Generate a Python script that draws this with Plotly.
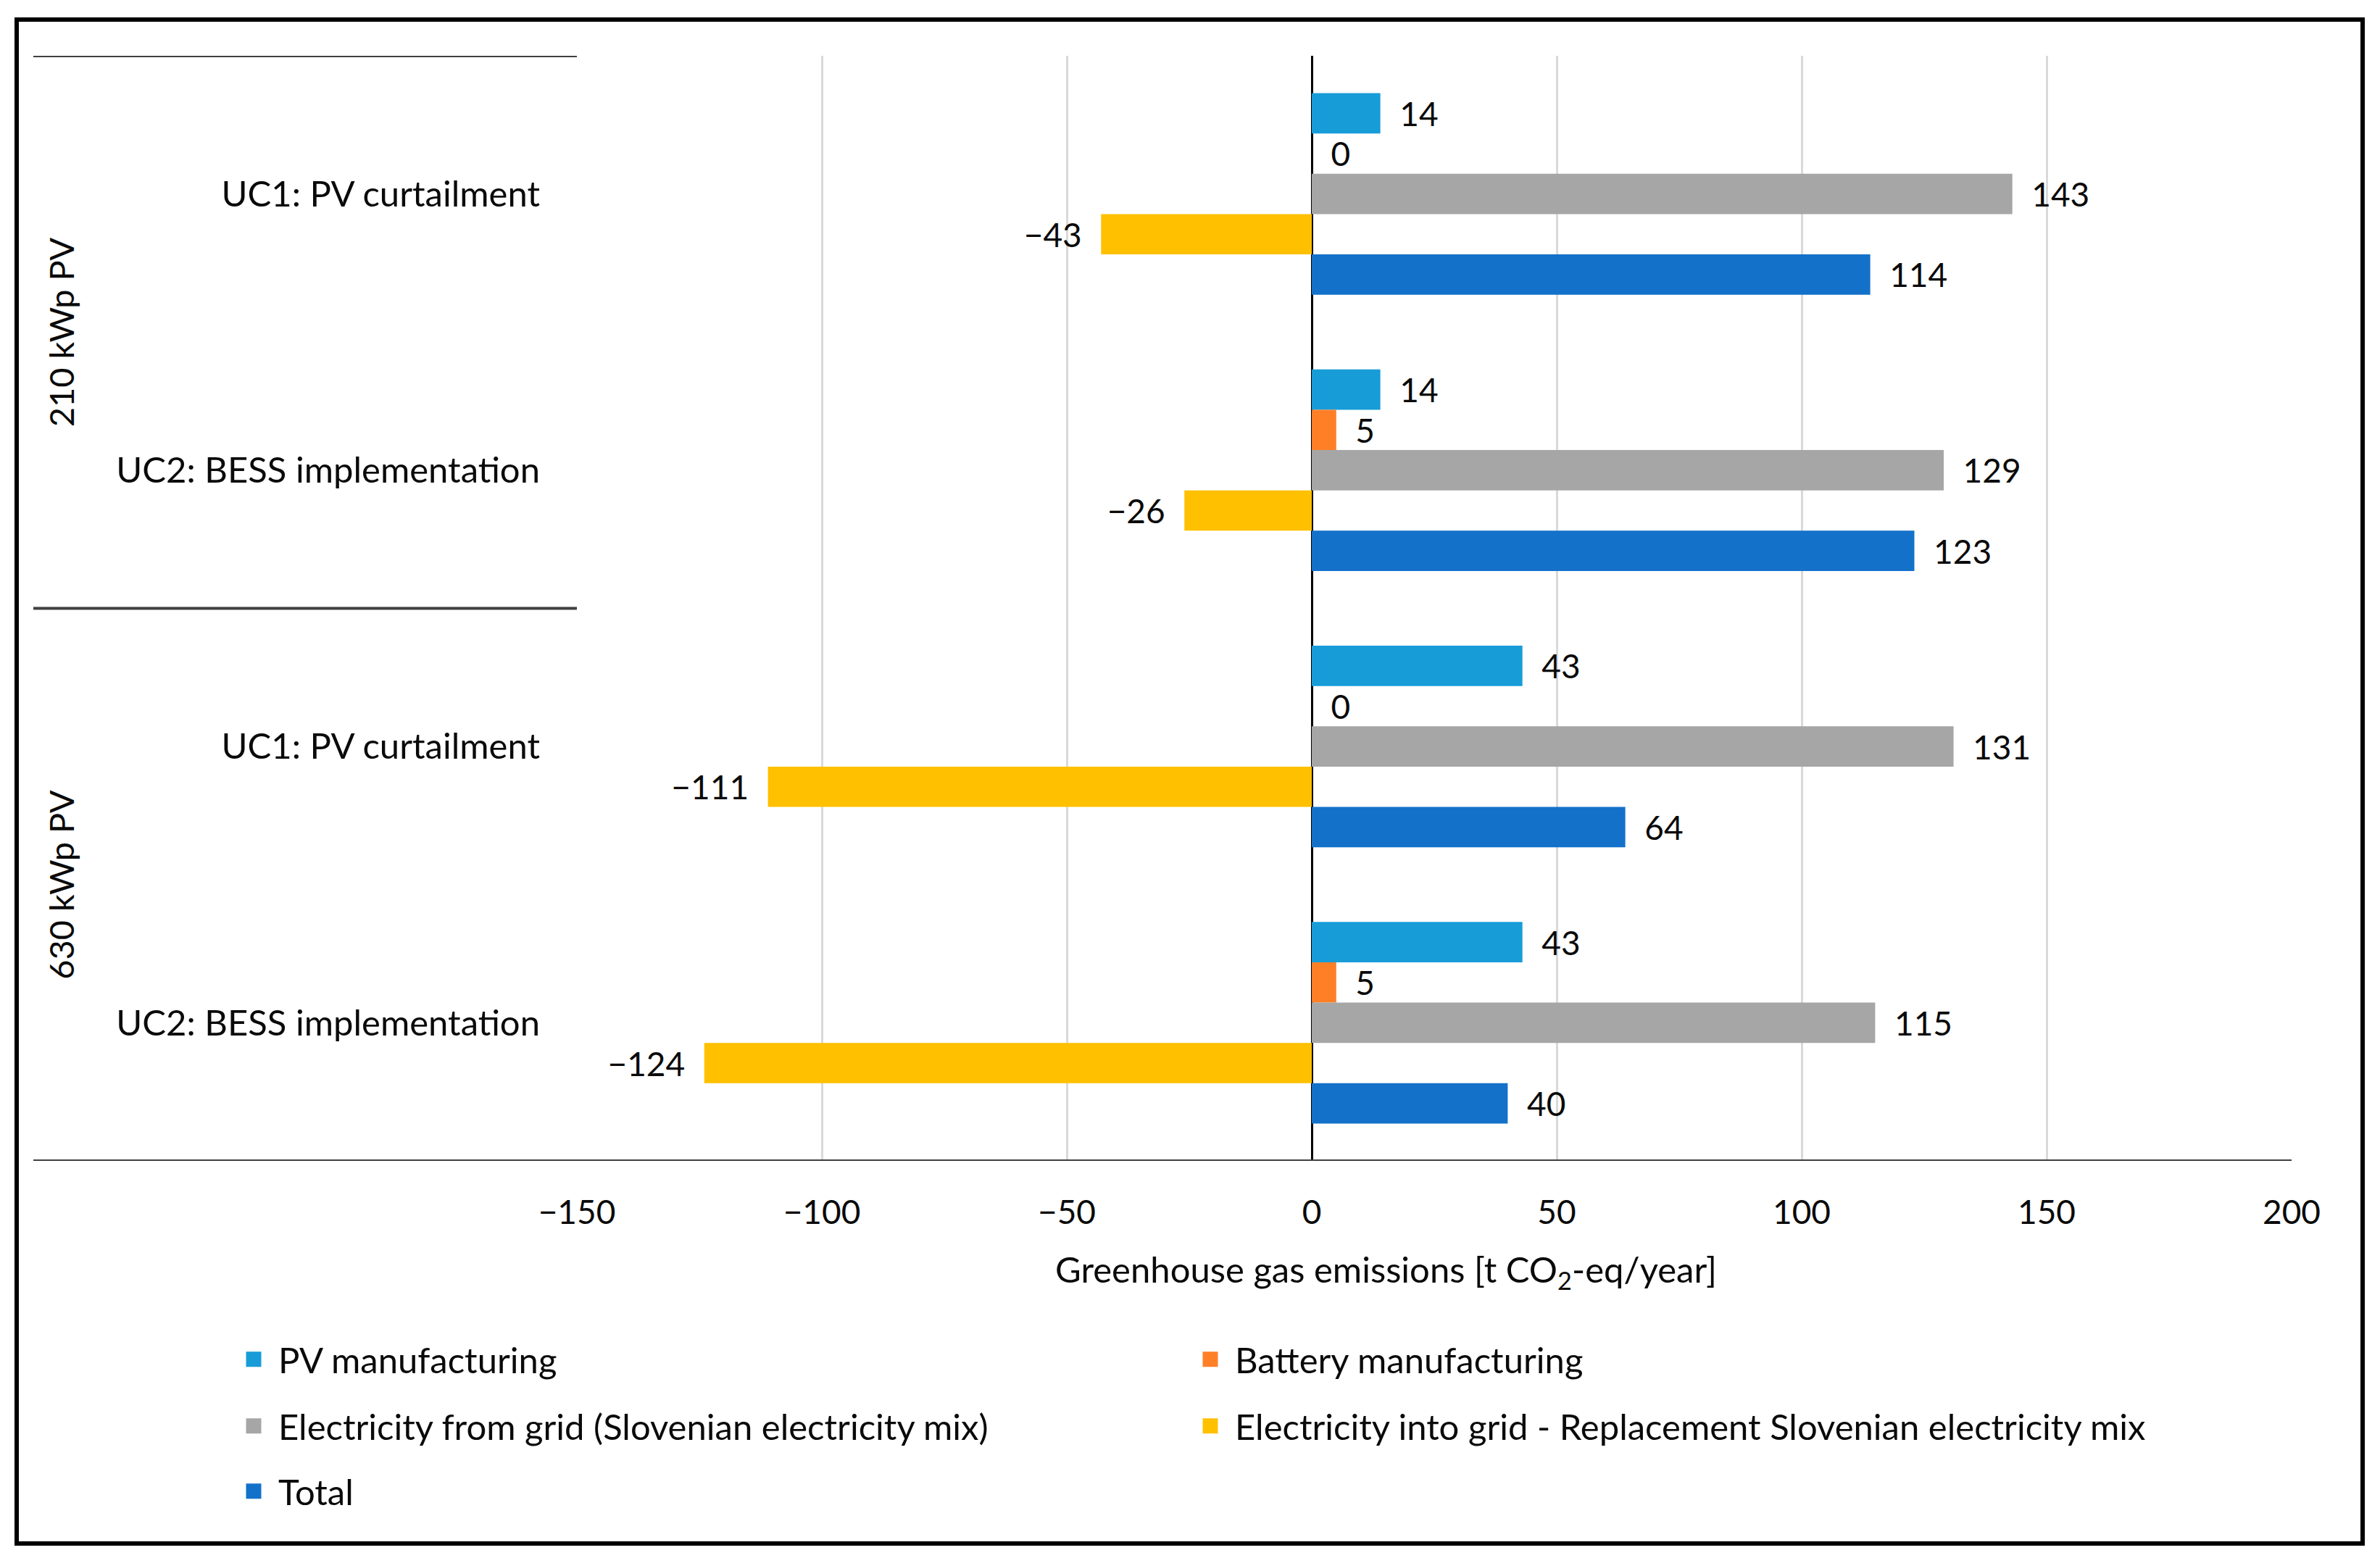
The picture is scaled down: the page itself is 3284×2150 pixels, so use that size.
import plotly.graph_objects as go

categories = ["UC1: PV curtailment", "UC2: BESS implementation",
              "UC1: PV curtailment ", "UC2: BESS implementation "]
category_labels = ["UC1: PV curtailment", "UC2: BESS implementation",
                   "UC1: PV curtailment", "UC2: BESS implementation"]
groups = ["210 kWp PV", "630 kWp PV"]

pv_manufacturing = [14, 14, 43, 43]
battery_manufacturing = [0, 5, 0, 5]
electricity_from_grid = [143, 129, 131, 115]
electricity_into_grid = [-43, -26, -111, -124]
total = [114, 123, 64, 40]

series_names = ["PV manufacturing", "Battery manufacturing",
                "Electricity from grid (Slovenian electricity mix)",
                "Electricity into grid - Replacement Slovenian electricity mix",
                "Total"]
series_values = [pv_manufacturing, battery_manufacturing, electricity_from_grid,
                 electricity_into_grid, total]
series_colors = ["#179CD8", "#FF7F27", "#A6A6A6", "#FFC000", "#1371CA"]

x_ticks = [-150, -100, -50, 0, 50, 100, 150, 200]
x_title = "Greenhouse gas emissions [t CO<sub>2</sub>-eq/year]"

FONT = "Lato"
FS_NUM = 46
FS_TXT = 49
TXT = "#0a0a0a"
NB = "\u00a0"


def fmt(v):
    if v < 0:
        return "\u2212" + str(abs(v)) + NB * 2
    return NB * 2 + str(v)


# figure size (the page body has an 8px margin)
W, H = 3268, 2134
OFF = 8
L, R, T, B = 788, 114, 69, 540
pw, ph = W - L - R, H - T - B


def px_x(sx):
    return (sx - OFF - L) / pw


def px_y(sy):
    return (H - B - (sy - OFF)) / ph


fig = go.Figure()
for name, vals, col in zip(series_names, series_values, series_colors):
    fig.add_trace(go.Bar(
        y=categories, x=vals, orientation="h", name=name,
        marker=dict(color=col, line=dict(width=0)),
        text=[fmt(v) for v in vals], textposition="outside",
        textfont=dict(family=FONT, size=FS_NUM, color=TXT),
        cliponaxis=False, hoverinfo="skip", showlegend=False,
    ))

# legend entries (one legend per entry, placed in a 2-column grid)
legend_pos = [(316, 1876), (1636, 1876), (316, 1968), (1636, 1968), (316, 2058)]
legend_layout = {}
for i, (name, col, (lx, ly)) in enumerate(zip(series_names, series_colors, legend_pos)):
    lname = "legend" if i == 0 else f"legend{i + 1}"
    fig.add_trace(go.Scatter(
        x=[None], y=[None], mode="markers", name=name, legend=lname,
        marker=dict(symbol="square", size=16, color=col, line=dict(color=col, width=5)),
        hoverinfo="skip", showlegend=True,
    ))
    legend_layout[lname] = dict(
        x=px_x(lx), xanchor="left", y=px_y(ly), yanchor="middle",
        orientation="h", itemwidth=58, itemclick=False, itemdoubleclick=False,
        bgcolor="rgba(0,0,0,0)",
        font=dict(family=FONT, size=FS_TXT, color=TXT),
    )

shapes = []
# outer frame
shapes.append(dict(type="rect", xref="paper", yref="paper",
                   x0=px_x(23), x1=px_x(3260), y0=px_y(2130), y1=px_y(27),
                   line=dict(color="black", width=6), fillcolor="rgba(0,0,0,0)", layer="above"))
# table lines
for yv, x1 in [(-0.5, 0), (1.5, 0), (3.5, 1)]:
    shapes.append(dict(type="line", xref="paper", yref="y",
                       x0=px_x(46), x1=x1, y0=yv, y1=yv,
                       line=dict(color="#404040", width=4), layer="above"))

annotations = []
for gname, yc in zip(groups, [0.5, 2.5]):
    annotations.append(dict(text=gname, xref="paper", yref="y", x=px_x(84), y=yc,
                            showarrow=False, textangle=-90,
                            font=dict(family=FONT, size=47, color=TXT),
                            xanchor="center", yanchor="middle"))
# x-axis title (offset left of the plot centre, as in the reference)
annotations.append(dict(text=x_title, xref="paper", yref="paper",
                        x=px_x(1912), y=px_y(1755), showarrow=False,
                        xanchor="center", yanchor="middle",
                        font=dict(family=FONT, size=FS_TXT, color=TXT)))

fig.update_layout(
    width=W, height=H,
    margin=dict(l=L, r=R, t=T, b=B, pad=0),
    paper_bgcolor="white", plot_bgcolor="white",
    barmode="group", bargap=0.27, bargroupgap=0,
    font=dict(family=FONT, size=FS_TXT, color=TXT),
    shapes=shapes, annotations=annotations,
    showlegend=True,
    **legend_layout,
)
fig.update_xaxes(range=[-150, 200], tickvals=x_ticks,
                 showgrid=True, gridcolor="#D9D9D9", gridwidth=3,
                 zeroline=True, zerolinecolor="#000000", zerolinewidth=3,
                 showline=False, ticks="", ticklabelstandoff=40,
                 tickfont=dict(family=FONT, size=FS_NUM, color=TXT))
fig.update_yaxes(type="category", categoryorder="array", categoryarray=categories,
                 range=[3.5, -0.5], tickvals=categories, ticktext=category_labels,
                 showgrid=False, zeroline=False, showline=False, ticks="",
                 ticklabelstandoff=50,
                 tickfont=dict(family=FONT, size=FS_TXT, color=TXT))

fig.write_html("out.html")
